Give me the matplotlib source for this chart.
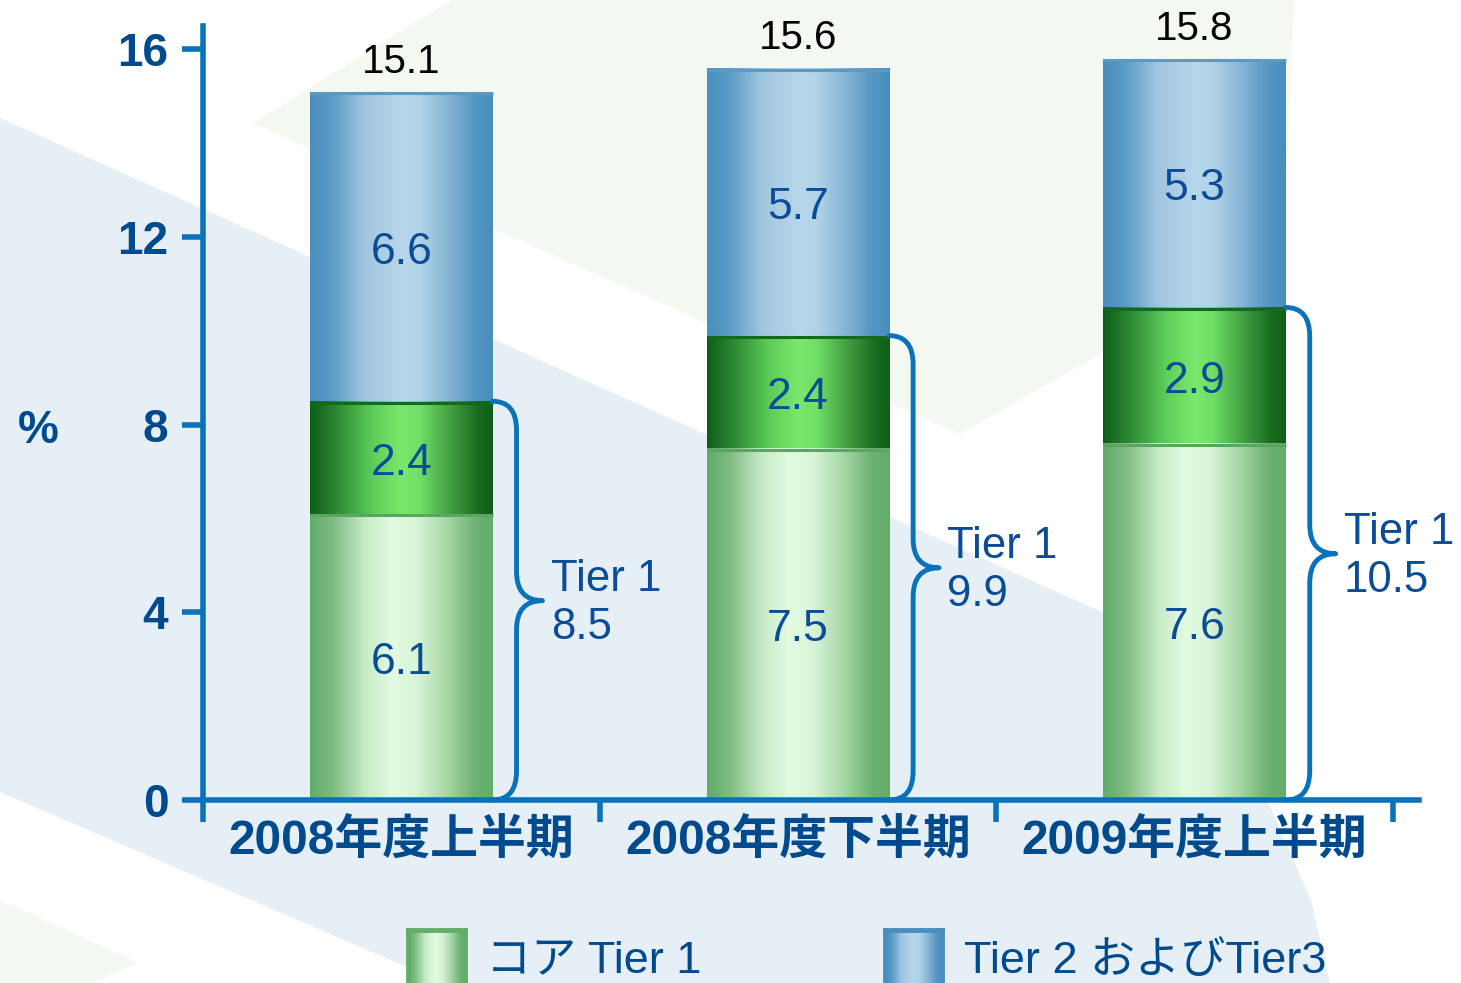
import numpy as np
import matplotlib
matplotlib.use('Agg')
import matplotlib.pyplot as plt
from matplotlib.colors import LinearSegmentedColormap
from matplotlib.patches import Polygon, PathPatch
from matplotlib.path import Path

plt.rcParams['font.family'] = ['Liberation Sans', 'Noto Sans CJK JP']

# data
categories = ['2008年度上半期', '2008年度下半期', '2009年度上半期']
core_tier1 = [6.1, 7.5, 7.6]
other_tier1 = [2.4, 2.4, 2.9]
tier2_3 = [6.6, 5.7, 5.3]
tier1_total = [8.5, 9.9, 10.5]
totals = [15.1, 15.6, 15.8]
y_ticks = [0, 4, 8, 12, 16]
legend_labels = ['コア Tier 1', 'Tier 2 およびTier3']

W, H = 1461, 983
AXIS = '#0a72ba'
NAVY = '#004a8d'
VAL = '#0b4c97'

cmap_core = LinearSegmentedColormap.from_list('core', [
    (0, '#62ad6a'), (0.12, '#7dbb82'), (0.3, '#c6ebc6'), (0.45, '#e2fbe2'),
    (0.58, '#d9f5d8'), (0.75, '#a6d6a6'), (0.9, '#6fb274'), (1, '#62ad6a')])
cmap_mid = LinearSegmentedColormap.from_list('mid', [
    (0, '#0f5e18'), (0.15, '#2e8a36'), (0.35, '#5fcf5a'), (0.5, '#7ae86c'),
    (0.6, '#70df66'), (0.78, '#3f9a40'), (0.92, '#1a6d20'), (1, '#0f5e18')])
cmap_blue = LinearSegmentedColormap.from_list('blue', [
    (0, '#4a8ebd'), (0.12, '#5a9cc6'), (0.3, '#a2c6e0'), (0.5, '#b7d6eb'),
    (0.6, '#b2d3e8'), (0.78, '#80b0d2'), (0.9, '#5596c3'), (1, '#4a8ebd')])
grad = np.linspace(0, 1, 256).reshape(1, -1)

fig = plt.figure(figsize=(W / 100, H / 100), dpi=100)
fig.patch.set_facecolor('white')

# faint background shapes
bg = fig.add_axes([0, 0, 1, 1], zorder=0)
bg.set_xlim(0, W)
bg.set_ylim(H, 0)
bg.axis('off')
bg.add_patch(Polygon([(0, 118), (1200, 656), (1270, 807), (1311, 900), (1330, 983),
                      (444, 983), (0, 792)], closed=True, fc='#e7eff6', ec='none'))
bg.add_patch(Polygon([(253, 123), (452, 0), (1294, 0), (1283, 250), (960, 434)],
                     closed=True, fc='#f3f8f1', ec='none'))
bg.add_patch(Polygon([(0, 900), (138, 963), (92, 983), (0, 983)],
                     closed=True, fc='#f3f8f1', ec='none'))

ax = fig.add_axes([203 / W, (H - 800) / H, 1216 / W, 774 / H], zorder=1)
ax.patch.set_alpha(0)

x = np.arange(len(categories))
width = 0.46
mid_bottom = np.array(core_tier1)
top_bottom = np.add(core_tier1, other_tier1)

b1 = ax.bar(x, core_tier1, width, color='none', zorder=2)
b2 = ax.bar(x, other_tier1, width, bottom=mid_bottom, color='none', zorder=2)
b3 = ax.bar(x, tier2_3, width, bottom=top_bottom, color='none', zorder=2)


def fill_gradient(bars, cmap, edge):
    for p in bars.patches:
        x0, y0 = p.get_x(), p.get_y()
        w, h = p.get_width(), p.get_height()
        im = ax.imshow(grad, cmap=cmap, extent=[x0, x0 + w, y0, y0 + h],
                       aspect='auto', zorder=2, interpolation='bicubic')
        im.set_clip_path(p)
        ax.plot([x0, x0 + w], [y0 + h - 0.03, y0 + h - 0.03], color=edge,
                lw=2.2, zorder=3, solid_capstyle='butt')


fill_gradient(b1, cmap_core, '#5aa562')
fill_gradient(b2, cmap_mid, '#126a1c')
fill_gradient(b3, cmap_blue, '#5b9ac4')

# segment values
for bars, vals in [(b1, core_tier1), (b2, other_tier1), (b3, tier2_3)]:
    for p, v in zip(bars.patches, vals):
        ax.annotate(f'{v}', (p.get_x() + p.get_width() / 2, p.get_y() + p.get_height() / 2),
                    xytext=(0, -4), textcoords='offset points',
                    ha='center', va='center', fontsize=32, color=VAL, zorder=4)

# totals
for xi, t in zip(x, totals):
    ax.annotate(f'{t}', (xi, t), xytext=(0, 8), textcoords='offset points',
                ha='center', va='bottom', fontsize=29, color='black', zorder=4)

# braces for Tier 1
px_x = 1216 / 3.066
px_y = 774 / 16.5
for xi, t1 in zip(x, tier1_total):
    x0 = xi + width / 2
    xv = x0 + 24 / px_x
    xp = x0 + 50 / px_x
    r = 29 / px_y
    ym = t1 / 2
    verts = [(x0, t1), (xv, t1), (xv, t1 - r), (xv, ym + r), (xv, ym), (xp, ym),
             (xv, ym), (xv, ym - r), (xv, r), (xv, 0), (x0, 0)]
    codes = [Path.MOVETO, Path.CURVE3, Path.CURVE3, Path.LINETO, Path.CURVE3, Path.CURVE3,
             Path.CURVE3, Path.CURVE3, Path.LINETO, Path.CURVE3, Path.CURVE3]
    ax.add_patch(PathPatch(Path(verts, codes), fc='none', ec=AXIS, lw=3.5,
                           capstyle='round', joinstyle='round', zorder=3, clip_on=False))
    ax.annotate(f'Tier 1\n{t1}', (xp, ym), xytext=(6, -2), textcoords='offset points',
                ha='left', va='center', fontsize=31.5, color=VAL, linespacing=1.22,
                zorder=4, annotation_clip=False)

ax.set_xlim(-0.5, 2.566)
ax.set_ylim(0, 16.5)

for s in ['top', 'right']:
    ax.spines[s].set_visible(False)
for s in ['left', 'bottom']:
    ax.spines[s].set_color(AXIS)
    ax.spines[s].set_linewidth(4)

ax.set_yticks(y_ticks)
ax.tick_params(axis='y', direction='out', length=15, width=4, color=AXIS,
               pad=10, labelsize=33, labelcolor=NAVY)
for lbl in ax.get_yticklabels():
    lbl.set_fontweight('bold')

ax.set_xticks([-0.5, 0.5, 1.5, 2.5])
ax.set_xticklabels([])
ax.set_xticks(x, categories, minor=True)
ax.tick_params(axis='x', which='major', direction='out', length=16, width=4, color=AXIS)
ax.tick_params(axis='x', which='minor', length=0, pad=13, labelsize=34.5, labelcolor=NAVY)
for lbl in ax.get_xticklabels(minor=True):
    lbl.set_fontweight('bold')

fig.text(38 / W, 1 - 431 / H, '%', ha='center', va='center', fontsize=33,
         fontweight='bold', color=NAVY)

# legend
for (lx, tx), cmap, edge, label in zip([(408, 486), (885, 964)], [cmap_core, cmap_blue],
                                       ['#62ad6a', '#4a8ebd'], legend_labels):
    sw = fig.add_axes([lx / W, (H - 992) / H, 57 / W, 62 / H], zorder=2)
    sw.imshow(grad, cmap=cmap, aspect='auto', interpolation='bicubic')
    sw.set_xticks([])
    sw.set_yticks([])
    for s in sw.spines.values():
        s.set_color(edge)
        s.set_linewidth(3.5)
    fig.text(tx / W, 1 - 973 / H, label, ha='left', va='baseline', fontsize=32.5, color=NAVY)

fig.savefig('out.png', dpi=100)
